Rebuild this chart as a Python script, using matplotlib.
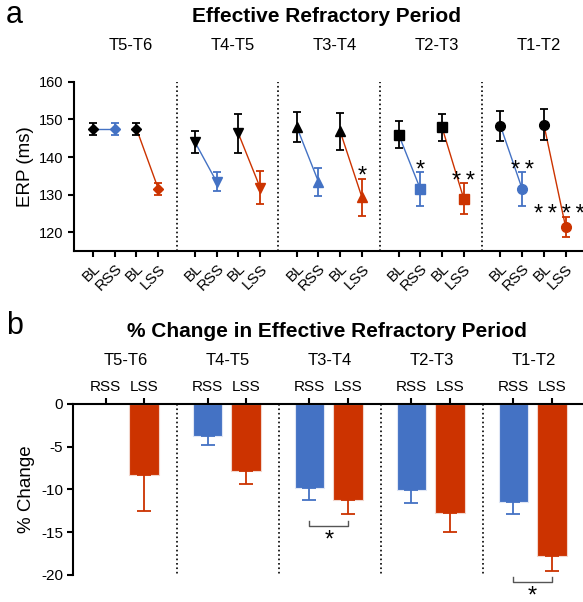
import matplotlib.pyplot as plt
import numpy as np

plt.rcParams['font.family'] = ['Liberation Sans', 'DejaVu Sans']

groups = ['T5-T6', 'T4-T5', 'T3-T4', 'T2-T3', 'T1-T2']
markers = ['D', 'v', '^', 's', 'o']
msizes = [5, 7, 7, 6.5, 7]

# ERP values: BL(R), RSS, BL(L), LSS
erp_mean = [
    [147.5, 147.5, 147.5, 131.6],
    [144.0, 133.4, 146.3, 131.9],
    [148.0, 133.4, 146.8, 129.3],
    [146.0, 131.5, 147.9, 128.9],
    [148.3, 131.5, 148.6, 121.4],
]
erp_err = [
    [1.5, 1.5, 1.5, 1.6],
    [3.0, 2.5, 5.2, 4.5],
    [4.1, 3.7, 5.0, 4.9],
    [3.6, 4.4, 3.5, 4.1],
    [4.0, 4.4, 4.1, 2.6],
]
ts = '\u2009'
erp_stars = [['', '', '', ''], ['', '', '', ''], ['', '', '', '*'],
             ['', '*', '', ts.join('**')], ['', ts.join('**'), '', ts.join('****')]]
xlabels = ['BL', 'RSS', 'BL', 'LSS']

# % change
rss_pct = [np.nan, -3.8, -9.8, -10.1, -11.5]
rss_pct_err = [np.nan, 1.05, 1.45, 1.45, 1.4]
lss_pct = [-8.3, -7.9, -11.2, -12.8, -17.8]
lss_pct_err = [4.2, 1.5, 1.7, 2.2, 1.8]

blue = '#4472C4'
red = '#CC3300'
gap = 4.69

fig = plt.figure(figsize=(5.83, 6.02), dpi=100)

# ---------- panel a ----------
ax = fig.add_axes([0.127, 0.583, 0.873, 0.281])
ticks, ticklabels = [], []
for g in range(5):
    xs = g * gap + np.array([0, 1, 2, 3])
    m = erp_mean[g]
    e = erp_err[g]
    ax.plot(xs[:2], m[:2], color=blue, lw=1, zorder=2)
    ax.plot(xs[2:], m[2:], color=red, lw=1, zorder=2)
    cols = ['black', blue, 'black', red]
    for i in range(4):
        ax.errorbar(xs[i], m[i], yerr=e[i], fmt=markers[g], color=cols[i],
                    ms=msizes[g], capsize=3, elinewidth=1.3, capthick=1.3, zorder=3)
        st = erp_stars[g][i]
        if st:
            ax.text(xs[i] - (0.3 if len(st) > 3 else 0), m[i] + e[i] - 1.1,
                    st, ha='center', va='baseline', fontsize=17, clip_on=False)
    ticks += list(xs)
    ticklabels += xlabels
    ax.text(g * gap + 1.75, 169.7, groups[g], ha='center', va='center', fontsize=12)
    if g < 4:
        ax.axvline(g * gap + 3.845, color='black', ls=':', lw=1.2)

ax.set_xlim(-0.876, 4 * gap + 3.8)
ax.set_ylim(115, 160)
ax.set_yticks([120, 130, 140, 150, 160])
ax.set_xticks(ticks)
ax.set_xticklabels(ticklabels, rotation=45, ha='right', va='top',
                   rotation_mode='anchor', fontsize=11)
ax.tick_params(axis='y', labelsize=10.5, width=1.5, length=4)
ax.tick_params(axis='x', width=1.5, length=4)
ax.set_ylabel('ERP (ms)', fontsize=13.5)
for s in ['top', 'right']:
    ax.spines[s].set_visible(False)
for s in ['left', 'bottom']:
    ax.spines[s].set_linewidth(1.5)

fig.text(0.56, 0.972, 'Effective Refractory Period', ha='center', va='center',
         fontsize=15, fontweight='bold')
fig.text(0.025, 0.975, 'a', ha='center', va='center', fontsize=22)

# ---------- panel b ----------
bx = fig.add_axes([0.126, 0.045, 0.874, 0.2844])
btick, blab = [], []
for g in range(5):
    xr = g * gap + 0.6
    xl = g * gap + 2.37
    if not np.isnan(rss_pct[g]):
        bx.bar(xr, rss_pct[g], width=1.35, color=blue, edgecolor='#dfe6f5', lw=0.8)
        bx.errorbar(xr, rss_pct[g], yerr=[[rss_pct_err[g]], [0]], fmt='none',
                    ecolor=blue, capsize=5, elinewidth=1.3, capthick=1.3)
    bx.bar(xl, lss_pct[g], width=1.35, color=red, edgecolor='#f2d6cc', lw=0.8)
    bx.errorbar(xl, lss_pct[g], yerr=[[lss_pct_err[g]], [0]], fmt='none',
                ecolor=red, capsize=5, elinewidth=1.3, capthick=1.3)
    btick += [xr, xl]
    blab += ['RSS', 'LSS']
    bx.text(g * gap + 1.55, 5.0, groups[g], ha='center', va='center', fontsize=12)
    if g < 4:
        bx.plot([g * gap + 3.87] * 2, [0, -20], color='black', ls=':', lw=1.2)

# significance brackets
for g, yb in [(2, -14.3), (4, -20.85)]:
    x1, x2 = g * gap + 0.6, g * gap + 2.37
    bx.plot([x1, x1, x2, x2], [yb + 0.55, yb, yb, yb + 0.55], color='#555555',
            lw=1, clip_on=False)
    bx.text((x1 + x2) / 2, yb - 0.35, '*', ha='center', va='top', fontsize=17,
            clip_on=False)

bx.set_xlim(-0.876, 4 * gap + 3.8)
bx.set_ylim(-20, 0)
bx.set_yticks([0, -5, -10, -15, -20])
bx.set_yticklabels(['0', '-5', '-10', '-15', '-20'])
bx.xaxis.tick_top()
bx.set_xticks(btick)
bx.set_xticklabels(blab, fontsize=11)
bx.tick_params(axis='x', width=1.5, length=4, pad=3)
bx.tick_params(axis='y', labelsize=11, width=1.5, length=4)
bx.set_ylabel('% Change', fontsize=13.5)
for s in ['bottom', 'right']:
    bx.spines[s].set_visible(False)
for s in ['left', 'top']:
    bx.spines[s].set_linewidth(1.5)

fig.text(0.56, 0.449, '% Change in Effective Refractory Period', ha='center',
         va='center', fontsize=15, fontweight='bold')
fig.text(0.025, 0.458, 'b', ha='center', va='center', fontsize=22)

fig.savefig('out.png', dpi=100)
